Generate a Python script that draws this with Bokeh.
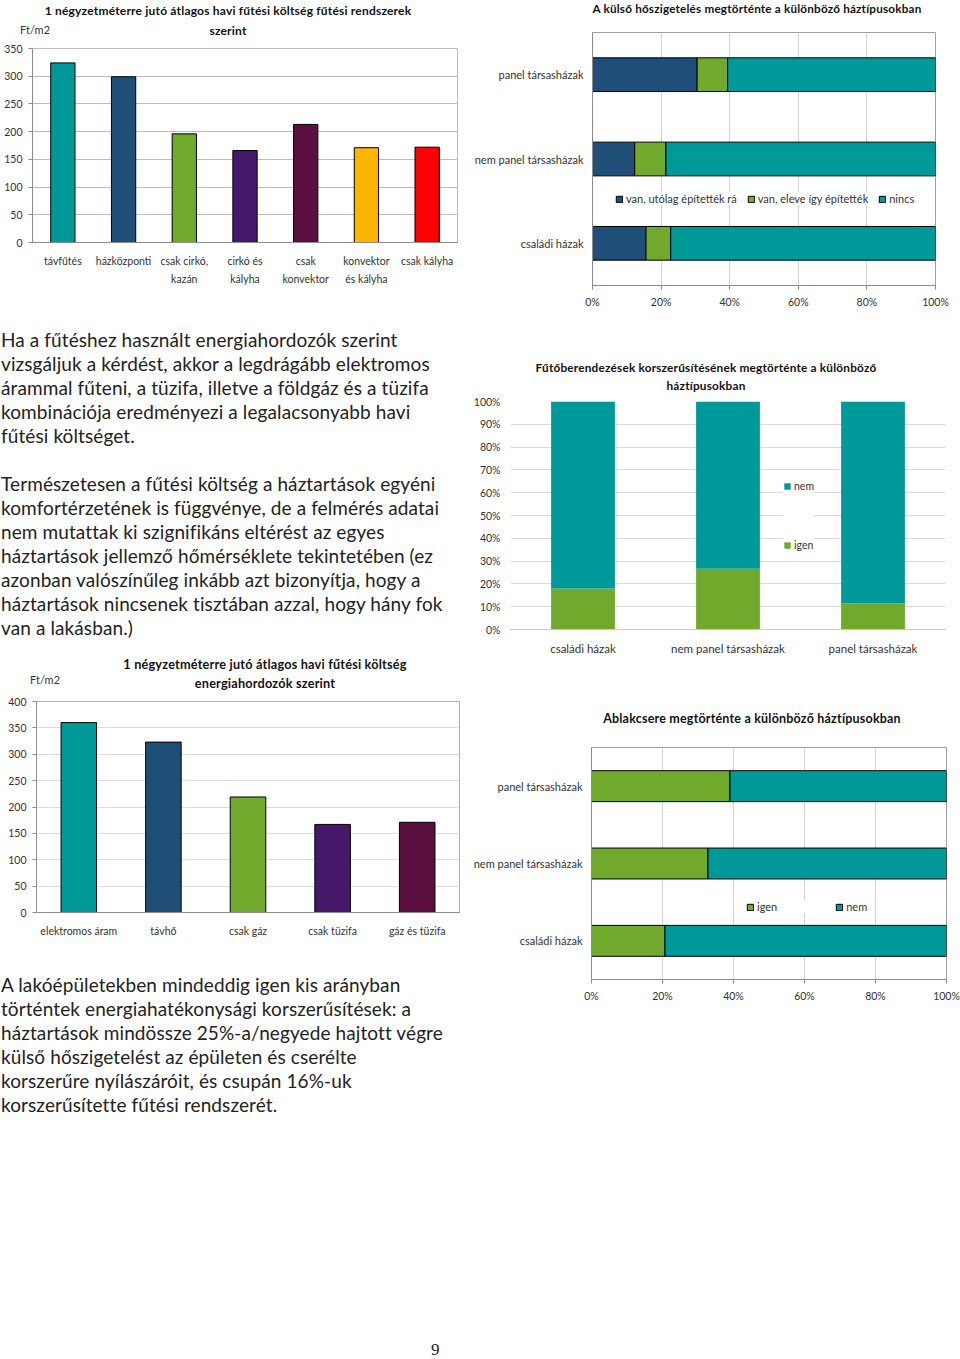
from bokeh.plotting import figure
from bokeh.models import (ColumnDataSource, FactorRange, Range1d, Legend, LegendItem,
                          FixedTicker, PrintfTickFormatter, Div, Spacer)
from bokeh.layouts import column, row
from bokeh.embed import file_html
from bokeh.resources import INLINE

FONT = "Lato"
TEAL = "#00999a"
BLUE = "#1f4f78"
GREEN = "#70a92b"
PURPLE = "#45186a"
MAROON = "#5b0f3f"
ORANGE = "#ffb400"
RED = "#ff0000"

# ---------------- data ----------------
system_labels = ["távfűtés", "házközponti", "csak cirkó,\nkazán", "cirkó és\nkályha",
                 "csak\nkonvektor", "konvektor\nés kályha", "csak kályha"]
system_cost = [324, 299, 196, 166, 213, 171, 172]
system_colors = [TEAL, BLUE, GREEN, PURPLE, MAROON, ORANGE, RED]
system_ticks = [0, 50, 100, 150, 200, 250, 300, 350]

carrier_labels = ["elektromos áram", "távhő", "csak gáz", "csak tüzifa", "gáz és tüzifa"]
carrier_cost = [360, 323, 219, 167, 171]
carrier_colors = [TEAL, BLUE, GREEN, PURPLE, MAROON]
carrier_ticks = [0, 50, 100, 150, 200, 250, 300, 350, 400]

house_types = ["családi házak", "nem panel társasházak", "panel társasházak"]
insul_retrofit = [15.6, 12.3, 30.5]
insul_built = [7.2, 9.1, 8.9]
insul_none = [77.2, 78.6, 60.6]
insul_series = ["van, utólag építették rá", "van, eleve így építették", "nincs"]

heat_yes = [18.0, 26.6, 11.5]
heat_no = [82.0, 73.4, 88.5]

window_yes = [20.7, 32.8, 39.0]
window_no = [79.3, 67.2, 61.0]

pct_ticks = [0, 20, 40, 60, 80, 100]
pct_ticks10 = [0, 10, 20, 30, 40, 50, 60, 70, 80, 90, 100]

title1 = ["1 négyzetméterre jutó átlagos havi fűtési költség fűtési rendszerek", "szerint"]
title2 = ["A külső hőszigetelés megtörténte a különböző háztípusokban"]
title3 = ["Fűtőberendezések korszerűsítésének megtörténte a különböző", "háztípusokban"]
title4 = ["1 négyzetméterre jutó átlagos havi fűtési költség", "energiahordozók szerint"]
title5 = ["Ablakcsere megtörténte a különböző háztípusokban"]
unit_label = "Ft/m2"

GRID = "#bdbdbd"
AXIS = "#8c8c8c"
LBL = "#333333"


def header(width, height, lines, cx, tops, size=12.5, unit=None):
    half = min(cx, width - cx)
    parts = [f'<div style="position:relative;width:{width}px;height:{height}px;'
             f'font-family:Lato;color:#111;">']
    for txt, top in zip(lines, tops):
        parts.append(f'<div style="position:absolute;left:{cx - half}px;width:{2 * half}px;'
                     f'top:{top}px;text-align:center;font-weight:bold;font-size:{size}px;'
                     f'line-height:15px;white-space:nowrap;letter-spacing:0.2px;">{txt}</div>')
    if unit:
        ux, utop = unit
        parts.append(f'<div style="position:absolute;left:{ux}px;top:{utop}px;'
                     f'font-size:11px;line-height:14px;color:#333;">{unit_label}</div>')
    parts.append("</div>")
    return Div(text="".join(parts), width=width, height=height, margin=0)


def style_axis(ax, size="10px", standoff=6, tick_out=0):
    ax.major_label_text_font = FONT
    ax.major_label_text_font_size = size
    ax.major_label_text_color = LBL
    ax.axis_line_color = AXIS
    ax.major_tick_line_color = AXIS
    ax.minor_tick_line_color = None
    ax.major_label_standoff = standoff
    ax.major_tick_in = 0
    ax.major_tick_out = tick_out


def base_fig(**kw):
    p = figure(output_backend="svg", toolbar_location=None, **kw)
    p.background_fill_color = "white"
    p.border_fill_color = "white"
    return p


def style_legend(lg, size="11px"):
    lg.padding = 2
    lg.glyph_width = 8
    lg.glyph_height = 8
    lg.label_height = 10
    lg.label_standoff = 3
    lg.label_text_font = FONT
    lg.label_text_font_size = size
    lg.label_text_color = LBL
    lg.border_line_color = None
    lg.background_fill_color = "white"
    lg.background_fill_alpha = 1.0


# ---------------- chart 1 ----------------
h1 = header(460, 42, title1, 228, [3, 23], size=12, unit=(20, 23))
src1 = ColumnDataSource(dict(cat=system_labels, val=system_cost, color=system_colors))
p1 = base_fig(x_range=FactorRange(*system_labels), y_range=Range1d(0, 350),
              width=460, height=250, min_border_left=32, min_border_right=3,
              min_border_top=6, min_border_bottom=50)
p1.vbar(x="cat", top="val", width=0.4, fill_color="color", line_color="black",
        line_width=1, source=src1)
style_axis(p1.yaxis[0], "10.5px", 6, 4)
p1.yaxis[0].ticker = FixedTicker(ticks=system_ticks)
style_axis(p1.xaxis[0], "10.5px", 12, 0)
p1.xaxis[0].major_label_text_line_height = 1.55
p1.xgrid.grid_line_color = None
p1.ygrid.grid_line_color = GRID
p1.outline_line_color = GRID

# ---------------- chart 4 ----------------
h4 = header(460, 47, title4, 265, [9, 28], size=12.7, unit=(30, 25))
src4 = ColumnDataSource(dict(cat=carrier_labels, val=carrier_cost, color=carrier_colors))
p4 = base_fig(x_range=FactorRange(*carrier_labels), y_range=Range1d(0, 400),
              width=460, height=250, min_border_left=36, min_border_right=1,
              min_border_top=6, min_border_bottom=33)
p4.vbar(x="cat", top="val", width=0.42, fill_color="color", line_color="black",
        line_width=1, source=src4)
style_axis(p4.yaxis[0], "10.5px", 6, 4)
p4.yaxis[0].ticker = FixedTicker(ticks=carrier_ticks)
style_axis(p4.xaxis[0], "10.5px", 12, 0)
p4.xgrid.grid_line_color = None
p4.ygrid.grid_line_color = "#dddddd"
p4.outline_line_color = "#b0b0b0"

# ---------------- chart 2 ----------------
h2 = header(500, 24, title2, 297, [1], size=11.7)
src2 = ColumnDataSource(dict(house=house_types, retro=insul_retrofit, built=insul_built,
                             none=insul_none))
p2 = base_fig(y_range=FactorRange(*house_types), x_range=Range1d(0, 100),
              width=500, height=296, min_border_left=132, min_border_right=25,
              min_border_top=8, min_border_bottom=35)
p2.hbar_stack(["retro", "built", "none"], y="house", height=0.4, color=[BLUE, GREEN, TEAL],
              line_color="black", line_width=1, source=src2, legend_label=insul_series)
style_axis(p2.xaxis[0], "10.5px", 6, 4)
p2.xaxis[0].ticker = FixedTicker(ticks=pct_ticks)
p2.xaxis[0].formatter = PrintfTickFormatter(format="%d%%")
style_axis(p2.yaxis[0], "11px", 9, 0)
p2.ygrid.grid_line_color = None
p2.xgrid.grid_line_color = "#d4d4d4"
p2.outline_line_color = "#a0a0a0"
lg2 = p2.legend[0]
style_legend(lg2)
lg2.orientation = "horizontal"
lg2.location = (23, 80)
lg2.spacing = 10

# ---------------- chart 3 ----------------
h3 = header(500, 74, title3, 246, [40, 58], size=11.8)
src3 = ColumnDataSource(dict(house=house_types, yes=heat_yes, no=heat_no))
p3 = base_fig(x_range=FactorRange(*house_types), y_range=Range1d(0, 100),
              width=500, height=266, min_border_left=50, min_border_right=15,
              min_border_top=7, min_border_bottom=31)
r3 = p3.vbar_stack(["yes", "no"], x="house", width=0.44, color=[GREEN, TEAL],
                   line_color=None, source=src3)
style_axis(p3.yaxis[0], "10.5px", 10, 0)
p3.yaxis[0].ticker = FixedTicker(ticks=pct_ticks10)
p3.yaxis[0].formatter = PrintfTickFormatter(format="%d%%")
p3.yaxis[0].axis_line_color = None
style_axis(p3.xaxis[0], "11.5px", 12, 0)
p3.xaxis[0].axis_line_color = "#c8c8c8"
p3.xgrid.grid_line_color = None
p3.ygrid.grid_line_color = "#d9d9d9"
p3.outline_line_color = None
lg3 = Legend(items=[LegendItem(label="nem", renderers=[r3[1]]),
                    LegendItem(label="igen", renderers=[r3[0]])],
             location=(273, 77))
style_legend(lg3, "10.5px")
lg3.padding = 14
lg3.spacing = 45
lg3.label_height = 14
p3.add_layout(lg3)

# ---------------- chart 5 ----------------
h5 = header(500, 80, title5, 292, [51], size=12.5)
src5 = ColumnDataSource(dict(house=house_types, yes=window_yes, no=window_no))
p5 = base_fig(y_range=FactorRange(*house_types), x_range=Range1d(0, 100),
              width=500, height=270, min_border_left=131, min_border_right=14,
              min_border_top=7, min_border_bottom=31)
p5.hbar_stack(["yes", "no"], y="house", height=0.4, color=[GREEN, TEAL],
              line_color="black", line_width=1, source=src5, legend_label=["igen", "nem"])
style_axis(p5.xaxis[0], "10.5px", 6, 4)
p5.xaxis[0].ticker = FixedTicker(ticks=pct_ticks)
p5.xaxis[0].formatter = PrintfTickFormatter(format="%d%%")
style_axis(p5.yaxis[0], "11px", 9, 0)
p5.ygrid.grid_line_color = None
p5.xgrid.grid_line_color = "#d4d4d4"
p5.outline_line_color = "#a0a0a0"
lg5 = p5.legend[0]
style_legend(lg5)
lg5.orientation = "horizontal"
lg5.location = (155, 66)
lg5.spacing = 58

# ---------------- texts ----------------
para1 = ["Ha a fűtéshez használt energiahordozók szerint",
         "vizsgáljuk a kérdést, akkor a legdrágább elektromos",
         "árammal fűteni, a tüzifa, illetve a földgáz és a tüzifa",
         "kombinációja eredményezi a legalacsonyabb havi",
         "fűtési költséget."]
para2 = ["Természetesen a fűtési költség a háztartások egyéni",
         "komfortérzetének is függvénye, de a felmérés adatai",
         "nem mutattak ki szignifikáns eltérést az egyes",
         "háztartások jellemző hőmérséklete tekintetében (ez",
         "azonban valószínűleg inkább azt bizonyítja, hogy a",
         "háztartások nincsenek tisztában azzal, hogy hány fok",
         "van a lakásban.)"]
para3 = ["A lakóépületekben mindeddig igen kis arányban",
         "történtek energiahatékonysági korszerűsítések: a",
         "háztartások mindössze 25%-a/negyede hajtott végre",
         "külső hőszigetelést az épületen és cserélte",
         "korszerűre nyílászáróit, és csupán 16%-uk",
         "korszerűsítette fűtési rendszerét."]

TXT = ("font-family:Lato;font-size:19px;line-height:24px;color:#222;white-space:nowrap;"
       "margin:0;padding-left:1px;letter-spacing:0.1px;")
html1 = (f'<div style="{TXT}padding-top:36px;">' + "<br>".join(para1) + "<br><br>"
         + "<br>".join(para2) + "</div>")
html3 = f'<div style="{TXT}padding-top:28px;">' + "<br>".join(para3) + "</div>"
div1 = Div(text=html1, width=460, height=356, margin=0)
div2 = Div(text=html3, width=460, height=180, margin=0)
div9 = Div(text='<div style="font-family:\'Liberation Serif\';font-size:17px;line-height:16px;'
                'color:#222;padding-left:431px;">9</div>', width=960, height=16, margin=0)

left = column(column(h1, p1, spacing=0), div1, column(h4, p4, spacing=0), div2, spacing=0)
right = column(column(h2, p2, spacing=0), column(h3, p3, spacing=0),
               column(h5, p5, spacing=0), spacing=0)
page = column(row(left, right, spacing=0), Spacer(height=217, width=10), div9, spacing=0)

open("out.html", "w").write(file_html(page, INLINE))
